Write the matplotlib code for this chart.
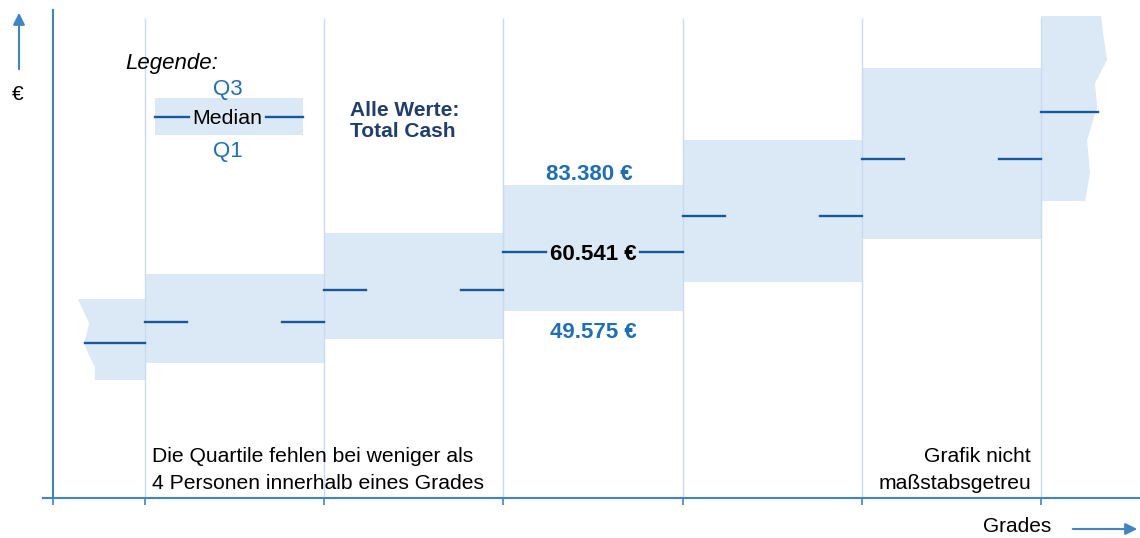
import matplotlib
matplotlib.use("Agg")
import matplotlib.pyplot as plt
from matplotlib.patches import Polygon, Rectangle, FancyArrowPatch

plt.rcParams["font.family"] = ["Liberation Sans", "DejaVu Sans"]

# schematic data (not to scale): level units, grade 0 and 6 are cut off
grades = [0, 1, 2, 3, 4, 5, 6]
q1 = [158, 175, 199, 227, 256, 299, 337]
median = [195, 216, 248, 286, 322, 379, 426]
q3 = [239, 264, 305, 353, 398, 470, 522]

# highlighted grade with real values in EUR
highlight_grade = 3
highlight_q3 = 83380
highlight_median = 60541
highlight_q1 = 49575

# torn edges: (fraction of box height from bottom, distance from grade boundary)
torn_left_frac = [1.0, 0.864, 0.704, 0.58, 0.457, 0.333, 0.16, 0.0]
torn_left_off = [0.374, 0.346, 0.312, 0.324, 0.340, 0.318, 0.279, 0.279]
torn_right_frac = [1.0, 0.908, 0.762, 0.638, 0.508, 0.330, 0.151, 0.0]
torn_right_off = [0.335, 0.346, 0.368, 0.301, 0.313, 0.257, 0.273, 0.246]

box_color = "#dbe8f5"
med_color = "#17599f"
axis_color = "#3f85c6"
grid_color = "#c9dbf1"
label_blue = "#1f6fb6"


def euro(v):
    return f"{v:,}".replace(",", ".") + " €"


fig = plt.figure(figsize=(11.4, 5.38), dpi=100)
ax = fig.add_axes([53 / 1140, 40 / 538, 1087 / 1140, 488 / 538])
ax.set_xlim(-0.013, 6.052)
ax.set_ylim(40, 528)

bounds = [g - 0.5 for g in grades[1:]]
seg = 0.235
mlw = 1.7

for g, lo, md, hi in zip(grades, q1, median, q3):
    if g == grades[0]:
        left = g + 0.5
        xs = [left] + [left - o for o in torn_left_off] + [left]
        ys = [hi] + [lo + f * (hi - lo) for f in torn_left_frac] + [lo]
        ax.add_patch(Polygon(list(zip(xs, ys)), closed=True, facecolor=box_color,
                             edgecolor="none", zorder=1))
        ax.plot([left - 0.335, left], [md, md], color=med_color, lw=mlw, zorder=3)
    elif g == grades[-1]:
        right = g - 0.5
        xs = [right] + [right + o for o in torn_right_off] + [right]
        ys = [hi] + [lo + f * (hi - lo) for f in torn_right_frac] + [lo]
        ax.add_patch(Polygon(list(zip(xs, ys)), closed=True, facecolor=box_color,
                             edgecolor="none", zorder=1))
        ax.plot([right, right + 0.318], [md, md], color=med_color, lw=mlw, zorder=3)
    else:
        ax.bar(g, hi - lo, bottom=lo, width=1.0, color=box_color, edgecolor="none", zorder=1)
        ax.plot([g - 0.5, g - 0.5 + seg], [md, md], color=med_color, lw=mlw, zorder=3)
        ax.plot([g + 0.5 - seg, g + 0.5], [md, md], color=med_color, lw=mlw, zorder=3)

ax.vlines(bounds, 40, 520, color=grid_color, lw=1.0, zorder=2)

# values of the highlighted grade
hg = highlight_grade
ax.text(hg - 0.02, q3[hg] + 11, euro(highlight_q3), ha="center", va="center",
        fontsize=16, fontweight="bold", color=label_blue)
ax.text(hg, median[hg] - 2, euro(highlight_median), ha="center", va="center",
        fontsize=16, fontweight="bold", color="black", zorder=4)
ax.text(hg, q1[hg] - 21, euro(highlight_q1), ha="center", va="center",
        fontsize=16, fontweight="bold", color=label_blue)

# legend
ax.text(0.388, 475, "Legende:", ha="left", va="center", fontsize=16, style="italic")
ax.add_patch(Rectangle((0.556, 403), 0.826, 37, facecolor=box_color, edgecolor="none", zorder=1))
ax.plot([0.556, 0.745], [421, 421], color=med_color, lw=mlw, zorder=3)
ax.plot([1.176, 1.382], [421, 421], color=med_color, lw=mlw, zorder=3)
ax.text(0.960, 449, "Q3", ha="center", va="center", fontsize=16, color=label_blue)
ax.text(0.960, 419, "Median", ha="center", va="center", fontsize=15.4, color="black")
ax.text(0.960, 387, "Q1", ha="center", va="center", fontsize=16, color=label_blue)

ax.text(1.644, 417, "Alle Werte:\nTotal Cash", ha="left", va="center", fontsize=15,
        fontweight="bold", color="#1f3d6e", linespacing=1.15)

ax.text(0.539, 68, "Die Quartile fehlen bei weniger als\n4 Personen innerhalb eines Grades",
        ha="left", va="center", fontsize=15.2, linespacing=1.5)
ax.text(5.444, 68, "Grafik nicht\nmaßstabsgetreu", ha="right", va="center",
        fontsize=15.2, linespacing=1.5)

# axes
for s in ["top", "right"]:
    ax.spines[s].set_visible(False)
for s in ["left", "bottom"]:
    ax.spines[s].set_color(axis_color)
    ax.spines[s].set_linewidth(1.5)
x0 = ax.get_xlim()[0]
ax.plot([x0 - 0.055, x0], [40, 40], color=axis_color, lw=1.5, clip_on=False)
ax.set_xticks([x0] + bounds)
ax.set_xticklabels([])
ax.set_yticks([])
ax.tick_params(axis="x", direction="out", length=5, width=1.2, color=axis_color)

fig.text(1017 / 1140, 1 - 527 / 538, "Grades", ha="center", va="center", fontsize=15)
fig.text(18 / 1140, 1 - 95 / 538, "€", ha="center", va="center", fontsize=15)
fig.add_artist(FancyArrowPatch(
    (1070 / 1140, 1 - 529 / 538), (1140 / 1140, 1 - 529 / 538), transform=fig.transFigure,
    arrowstyle="-|>,head_length=7,head_width=3.5", color=axis_color, lw=1.5))
fig.add_artist(FancyArrowPatch(
    (19 / 1140, 1 - 72 / 538), (19 / 1140, 1 - 10 / 538), transform=fig.transFigure,
    arrowstyle="-|>,head_length=7,head_width=3.5", color=axis_color, lw=1.5))

fig.savefig("out.png", dpi=100)
